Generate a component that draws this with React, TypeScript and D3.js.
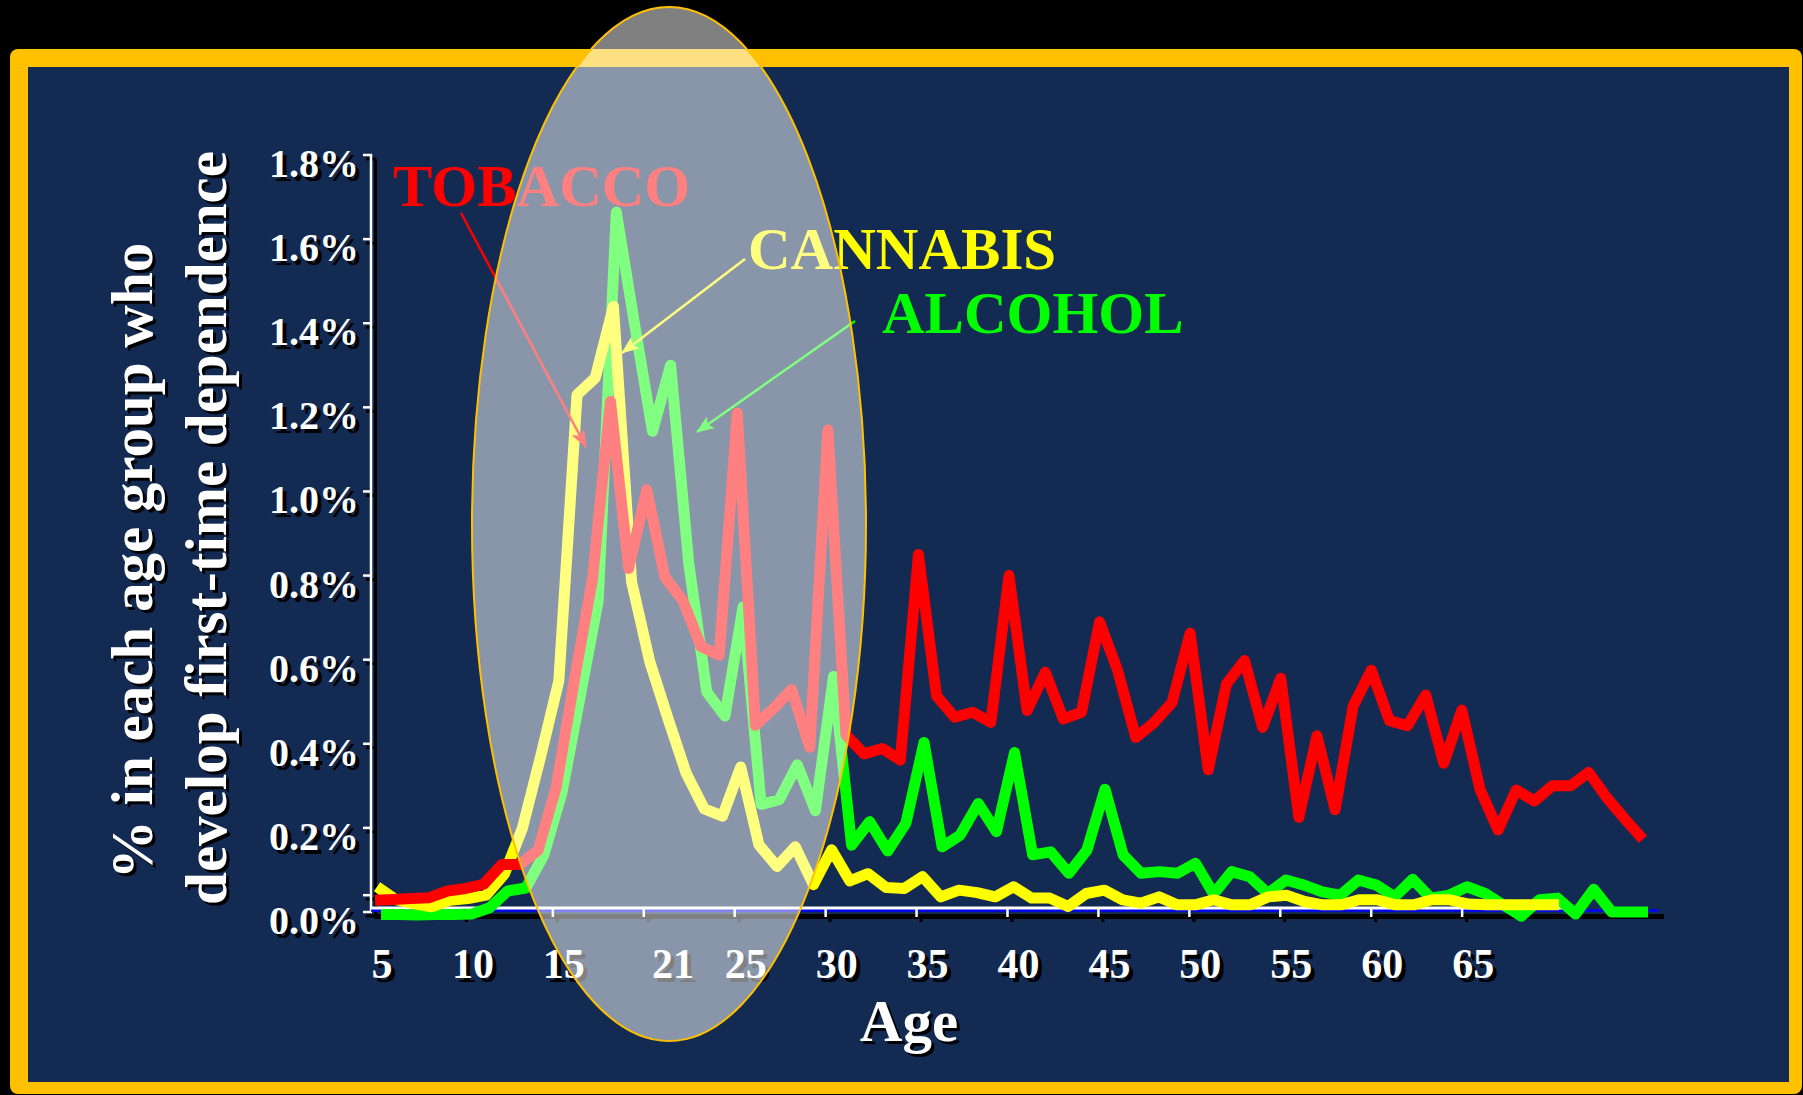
import React from "react";
import * as d3 from "d3";

// ---------- DATA ----------
const AGES = [5, 6, 7, 8, 9, 10, 11, 12, 13, 14, 15, 16, 17, 18, 19, 20, 21, 22, 23, 24, 25, 26, 27, 28, 29, 30,
  31, 32, 33, 34, 35, 36, 37, 38, 39, 40, 41, 42, 43, 44, 45, 46, 47, 48, 49, 50, 51, 52, 53, 54, 55,
  56, 57, 58, 59, 60, 61, 62, 63, 64, 65, 66, 67, 68, 69, 70, 71, 72, 73, 74, 75];

// % developing first-time dependence, by age
const TOBACCO = [0.028, 0.03, 0.032, 0.034, 0.05, 0.056, 0.066, 0.113, 0.113, 0.147, 0.296, 0.55, 0.79, 1.214,
  0.817, 1.004, 0.797, 0.74, 0.631, 0.611, 1.186, 0.444, 0.484, 0.529, 0.392, 1.146, 0.421, 0.376, 0.389, 0.361,
  0.85, 0.514, 0.463, 0.475, 0.451, 0.8, 0.479, 0.57, 0.459, 0.475, 0.69, 0.574, 0.415, 0.45, 0.498, 0.663,
  0.338, 0.542, 0.598, 0.439, 0.556, 0.225, 0.419, 0.243, 0.49, 0.575, 0.455, 0.443, 0.516, 0.354, 0.48,
  0.292, 0.195, 0.29, 0.264, 0.3, 0.3, 0.332, 0.272, 0.221, 0.173];

const ALCOHOL = [-0.006, -0.006, -0.007, -0.006, -0.006, -0.005, 0.01, 0.05, 0.057, 0.136, 0.284, 0.512, 0.74, 1.664,
  1.4, 1.143, 1.3, 0.83, 0.523, 0.466, 0.725, 0.256, 0.267, 0.35, 0.241, 0.56, 0.159, 0.215, 0.145, 0.211,
  0.403, 0.155, 0.183, 0.258, 0.191, 0.379, 0.136, 0.143, 0.092, 0.147, 0.292, 0.136, 0.092, 0.096, 0.092,
  0.116, 0.043, 0.096, 0.084, 0.044, 0.076, 0.064, 0.048, 0.04, 0.076, 0.064, 0.036, 0.078, 0.033, 0.04,
  0.06, 0.044, 0.017, -0.01, 0.029, 0.033, -0.005, 0.054, 0, 0, 0];

// cannabis series stops at age 70
const CANNABIS = [0.06, 0.03, 0.02, 0.012, 0.028, 0.032, 0.04, 0.09, 0.2, 0.37, 0.55, 1.23, 1.27, 1.44,
  0.785, 0.595, 0.46, 0.33, 0.245, 0.228, 0.345, 0.16, 0.108, 0.155, 0.065, 0.148, 0.074, 0.091, 0.058, 0.056,
  0.084, 0.036, 0.052, 0.046, 0.036, 0.06, 0.033, 0.033, 0.013, 0.044, 0.052, 0.029, 0.021, 0.036, 0.017,
  0.017, 0.029, 0.017, 0.017, 0.036, 0.04, 0.025, 0.017, 0.017, 0.029, 0.029, 0.017, 0.017, 0.029, 0.029,
  0.019, 0.017, 0.017, 0.017, 0.017, 0.017];

const Y_TICKS = [0, 0.2, 0.4, 0.6, 0.8, 1.0, 1.2, 1.4, 1.6, 1.8];
const Y_EXTRA_TICKS = [0.04];
const X_TICK_AGES = [10, 15, 20, 25, 30, 35, 40, 45, 50, 55, 60, 65];
const X_LABEL_AGES = [5, 10, 15, 21, 25, 30, 35, 40, 45, 50, 55, 60, 65];

const Y_TITLE_1 = "% in each age group who";
const Y_TITLE_2 = "develop first-time dependence";
const X_TITLE = "Age";

const FONT = "'Liberation Serif', 'Times New Roman', Times, serif";
const NAVY = "#132A52";
const GOLD = "#FFC000";
const RED = "#FF0000";
const GREEN = "#00FF00";
const YELLOW = "#FFFF00";

function ShadowText(props: {
  x: number; y: number; text: string; size: number; anchor?: string; fill?: string; sdx?: number; sdy?: number;
}) {
  const { x, y, text, size, anchor = "start", fill = "#fff", sdx = 4, sdy = 4 } = props;
  return (
    <g fontFamily={FONT} fontWeight="bold" fontSize={size} textAnchor={anchor as any}>
      <text x={x + sdx} y={y + sdy} fill="#000">{text}</text>
      <text x={x} y={y} fill={fill}>{text}</text>
    </g>
  );
}

export default function App() {
  const W = 1803, H = 1095;

  const yScale = d3.scaleLinear().domain([0, 1.8]).range([912, 155]);
  const axisX = d3.scaleLinear().domain([5, 75]).range([371, 1644]);
  const xTob = d3.scaleLinear().domain([5, 75]).range([375, 1643]);
  const xAlc = d3.scaleLinear().domain([5, 75]).range([381, 1648]);
  const xCan = d3.scaleLinear().domain([5, 75]).range([377, 1650]);

  const mk = (sx: d3.ScaleLinear<number, number>) =>
    d3.line<number>().x((_, i) => sx(AGES[i])).y((d) => yScale(d));

  const tobPath = mk(xTob)(TOBACCO) || "";
  const alcPath = mk(xAlc)(ALCOHOL) || "";
  const canPath = mk(xCan)(CANNABIS) || "";

  const yAxisX = axisX(5);
  const y0 = yScale(0);
  const yTop = yScale(1.8);

  const lineStyle = { fill: "none", strokeWidth: 11, strokeLinejoin: "round" as const, strokeLinecap: "butt" as const };

  return (
    <svg width={W} height={H} viewBox={`0 0 ${W} ${H}`}
      style={{ position: "absolute", left: 0, top: 0, display: "block" }}>
      <defs>
        {[["arRed", RED], ["arYel", YELLOW], ["arGrn", GREEN]].map(([id, c]) => (
          <marker key={id} id={id} markerUnits="userSpaceOnUse" markerWidth={18} markerHeight={14}
            refX={17} refY={7} orient="auto">
            <path d="M0,0 L18,7 L0,14 L4,7 z" fill={c} />
          </marker>
        ))}
      </defs>

      {/* background & frame */}
      <rect x={0} y={0} width={W} height={H} fill="#000" />
      <rect x={10} y={49} width={1792} height={1045} rx={8} fill={GOLD} />
      <rect x={28} y={67} width={1761} height={1015} fill={NAVY} />

      {/* y axis */}
      <line x1={yAxisX + 4.5} x2={yAxisX + 4.5} y1={yTop + 4} y2={y0 + 6} stroke="#000" strokeWidth={3} />
      {[...Y_TICKS, ...Y_EXTRA_TICKS].map((v) => (
        <line key={"ys" + v} x1={yAxisX - 5} x2={yAxisX + 5} y1={yScale(v) + 4} y2={yScale(v) + 4}
          stroke="#000" strokeWidth={3} />
      ))}
      <line x1={yAxisX} x2={yAxisX} y1={yTop - 1} y2={y0} stroke="#fff" strokeWidth={2.5} />
      {[...Y_TICKS, ...Y_EXTRA_TICKS].map((v) => (
        <line key={"yt" + v} x1={yAxisX - 8} x2={yAxisX + 1} y1={yScale(v)} y2={yScale(v)}
          stroke="#fff" strokeWidth={2.5} />
      ))}
      {Y_TICKS.map((v) => (
        <ShadowText key={"yl" + v} x={359} y={yScale(v) + 22} text={v.toFixed(1) + "%"} size={40} anchor="end" />
      ))}

      {/* x axis */}
      <line x1={axisX(5.2)} x2={axisX(76.1)} y1={y0 + 4.5} y2={y0 + 4.5} stroke="#000" strokeWidth={5} />
      {X_TICK_AGES.map((a) => (
        <line key={"xs" + a} x1={axisX(a) + 4.5} x2={axisX(a) + 4.5} y1={y0 + 5} y2={y0 + 10}
          stroke="#000" strokeWidth={3} />
      ))}
      <line x1={axisX(5)} x2={axisX(75.8)} y1={y0 - 1.5} y2={y0 - 1.5} stroke="#0000FF" strokeWidth={2.5} />
      <line x1={axisX(5)} x2={axisX(71)} y1={y0 - 4} y2={y0 - 4} stroke="#fff" strokeWidth={3} />
      {X_TICK_AGES.map((a) => (
        <line key={"xt" + a} x1={axisX(a)} x2={axisX(a)} y1={y0 - 5} y2={y0 + 5}
          stroke="#fff" strokeWidth={2.5} />
      ))}
      {X_LABEL_AGES.map((a) => (
        <ShadowText key={"xl" + a} x={axisX(a) + 11} y={978} text={String(a)} size={42} anchor="middle" />
      ))}

      {/* axis titles */}
      <g fontFamily={FONT} fontWeight="bold" fontSize={59} textAnchor="middle">
        <text transform={`translate(${155},${564}) rotate(-90)`} fill="#000">{Y_TITLE_1}</text>
        <text transform={`translate(${152},${561}) rotate(-90)`} fill="#fff">{Y_TITLE_1}</text>
        <text transform={`translate(${229},${531}) rotate(-90)`} fill="#000">{Y_TITLE_2}</text>
        <text transform={`translate(${226},${528}) rotate(-90)`} fill="#fff">{Y_TITLE_2}</text>
      </g>
      <ShadowText x={909} y={1041} text={X_TITLE} size={59} anchor="middle" sdx={3} sdy={3} />

      {/* series */}
      <path d={alcPath} stroke={GREEN} {...lineStyle} />
      <path d={canPath} stroke={YELLOW} {...lineStyle} />
      <path d={tobPath} stroke={RED} {...lineStyle} />

      {/* series labels & arrows */}
      <g fontFamily={FONT} fontWeight="bold" fontSize={59}>
        <text x={393} y={206} fill={RED}>TOBACCO</text>
        <text x={748} y={269} fill={YELLOW}>CANNABIS</text>
        <text x={882} y={333} fill={GREEN}>ALCOHOL</text>
      </g>
      <line x1={461} y1={213} x2={586} y2={447} stroke={RED} strokeWidth={2.5} markerEnd="url(#arRed)" />
      <line x1={745} y1={259} x2={622} y2={353} stroke={YELLOW} strokeWidth={2.5} markerEnd="url(#arYel)" />
      <line x1={855} y1={321} x2={697} y2={432} stroke={GREEN} strokeWidth={2.5} markerEnd="url(#arGrn)" />

      {/* highlight ellipse */}
      <ellipse cx={669} cy={524} rx={197} ry={517} fill="#fff" fillOpacity={0.5} stroke={GOLD} strokeWidth={2} />
    </svg>
  );
}
